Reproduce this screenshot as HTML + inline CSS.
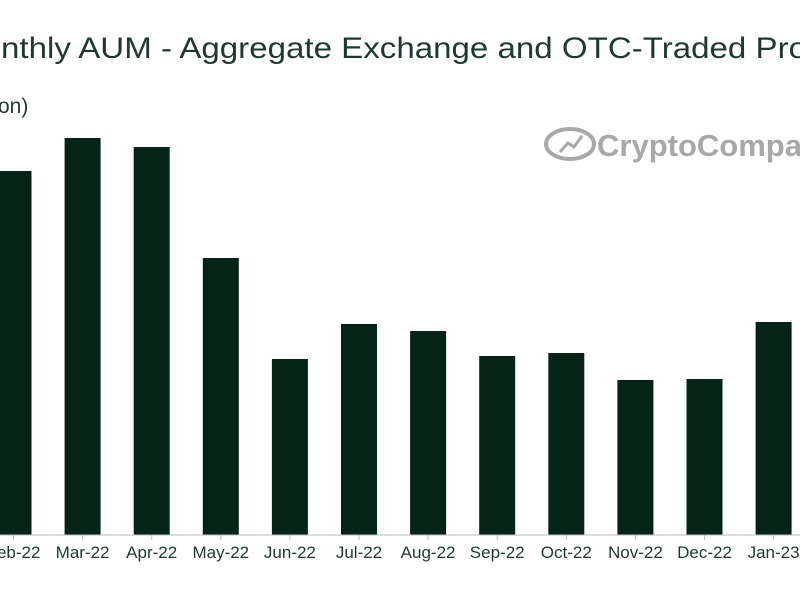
<!DOCTYPE html>
<html><head><meta charset="utf-8"><style>
body{margin:0;width:800px;height:600px;background:#fff;overflow:hidden;font-family:"Liberation Sans",sans-serif}
</style></head><body>
<svg width="800" height="600" xmlns="http://www.w3.org/2000/svg">
<text x="1" y="58" font-size="30" fill="#1e3a2e" textLength="806" lengthAdjust="spacingAndGlyphs">nthly AUM - Aggregate Exchange and OTC-Traded Pro</text>
<text x="-2" y="113" font-size="21" fill="#1e3a2e">on)</text>
<g>
<ellipse cx="570" cy="144" rx="24" ry="15" fill="none" stroke="#a8a8a8" stroke-width="4"/>
<path d="M560 152 L568 143 L574 147 L582 136" fill="none" stroke="#a8a8a8" stroke-width="3"/>
<text x="597" y="156" font-size="31" font-weight="bold" fill="#a8a8a8">CryptoCompare</text>
</g>
<g id="bars"></g>
<line x1="0" y1="535" x2="800" y2="535" stroke="#bbb" stroke-width="1"/>
<g id="labels"></g>
</svg>
<script>
const categories=["Feb-22","Mar-22","Apr-22","May-22","Jun-22","Jul-22","Aug-22","Sep-22","Oct-22","Nov-22","Dec-22","Jan-23"];
const values=[364,397,388,277,176,211,204,179,182,155,156,213];
const x0=13.5,step=69.1,baseY=535,barW=36;
function xPos(i){return x0+i*step;}
function yPos(v){return baseY-v;}
const ns="http://www.w3.org/2000/svg";
const bg=document.getElementById('bars'),lg=document.getElementById('labels');
categories.forEach((c,i)=>{
 const r=document.createElementNS(ns,'rect');
 r.setAttribute('x',xPos(i)-barW/2);r.setAttribute('y',yPos(values[i]));
 r.setAttribute('width',barW);r.setAttribute('height',values[i]);r.setAttribute('fill','#062318');
 
 
 bg.appendChild(r);
 const tk=document.createElementNS(ns,'line');
 tk.setAttribute('x1',xPos(i));tk.setAttribute('x2',xPos(i));tk.setAttribute('y1',535);tk.setAttribute('y2',540);tk.setAttribute('stroke','#bbb');
 
 
 lg.appendChild(tk);
 const t=document.createElementNS(ns,'text');
 t.setAttribute('x',xPos(i));t.setAttribute('y',558);t.setAttribute('text-anchor','middle');
 t.setAttribute('font-size','17');t.setAttribute('fill','#1e3a2e');t.textContent=c;
 
 
 lg.appendChild(t);
});
</script>
</body></html>
